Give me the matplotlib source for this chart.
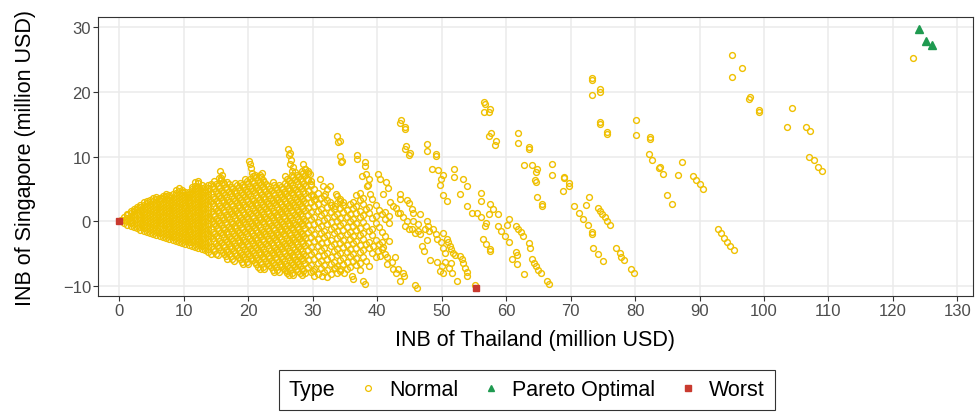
import numpy as np
import matplotlib
matplotlib.use("Agg")
import matplotlib.pyplot as plt
from matplotlib.lines import Line2D

plt.rcParams['font.family'] = ['Liberation Sans', 'DejaVu Sans']

#---------------------------------------------------------------------------------------
# data (INB in million USD)

pareto_thai = [124.0, 125.1, 126.0]
pareto_sing = [29.8, 27.9, 27.3]

worst_thai = [0.0, 55.3]
worst_sing = [0.0, -10.4]

# dense core near the origin, column by column (x, then the y values in that column)
core_x = [0.3, 0.8, 1.3, 1.8, 2.3, 2.8, 3.3, 3.8, 4.3, 4.8, 5.3, 5.8, 6.3, 6.8,
          7.3, 7.8, 8.3, 8.8, 9.3, 9.8, 10.3, 10.8, 11.3, 11.8, 12.3, 12.8, 13.3, 13.8]
core_y = [
    [-0.05, 0.15],
    [-0.25, 0.2, 0.65],
    [-0.55, -0.05, 0.45, 0.95, 1.15],
    [-0.8, -0.3, 0.2, 0.7, 1.2, 1.55],
    [-0.9, -0.4, 0.1, 0.6, 1.1, 1.6, 1.9],
    [-1.1, -0.6, -0.1, 0.4, 0.9, 1.4, 1.9, 2.15],
    [-1.35, -0.85, -0.35, 0.15, 0.65, 1.15, 1.65, 2.15, 2.55],
    [-1.55, -1.05, -0.55, -0.05, 0.45, 0.95, 1.45, 1.95, 2.45, 2.95],
    [-1.7, -1.2, -0.7, -0.2, 0.3, 0.8, 1.3, 1.8, 2.3, 2.8, 3.1],
    [-1.85, -1.35, -0.85, -0.35, 0.15, 0.65, 1.15, 1.65, 2.15, 2.65, 3.3],
    [-2.0, -1.5, -1.0, -0.5, 0.0, 0.5, 1.0, 1.5, 2.0, 2.5, 3.05, 3.65],
    [-2.15, -1.65, -1.15, -0.65, -0.15, 0.35, 0.85, 1.35, 1.85, 2.35, 2.85, 3.35, 3.75],
    [-2.3, -1.8, -1.3, -0.8, -0.3, 0.2, 0.7, 1.2, 1.7, 2.2, 2.7, 3.2, 3.55],
    [-2.5, -2.0, -1.5, -1.0, -0.5, 0.0, 0.5, 1.0, 1.5, 2.0, 2.5, 3.0, 3.5, 3.95],
    [-2.65, -2.15, -1.65, -1.15, -0.65, -0.15, 0.35, 0.85, 1.35, 1.85, 2.35, 2.85, 3.35, 3.85, 4.25],
    [-2.8, -2.3, -1.8, -1.3, -0.8, -0.3, 0.2, 0.7, 1.2, 1.7, 2.2, 2.7, 3.2, 3.7, 4.1],
    [-2.95, -2.45, -1.95, -1.45, -0.95, -0.45, 0.05, 0.55, 1.05, 1.55, 2.05, 2.55, 3.05, 3.55, 4.15],
    [-3.1, -2.6, -2.1, -1.6, -1.1, -0.6, -0.1, 0.4, 0.9, 1.4, 1.9, 2.4, 2.9, 3.4, 3.9, 4.35, 4.75],
    [-3.25, -2.75, -2.25, -1.75, -1.25, -0.75, -0.25, 0.25, 0.75, 1.25, 1.75, 2.25, 2.75, 3.25, 3.75, 4.25, 4.7, 5.15],
    [-3.4, -2.9, -2.4, -1.9, -1.4, -0.9, -0.4, 0.1, 0.6, 1.1, 1.6, 2.1, 2.6, 3.1, 3.6, 4.1, 4.5, 4.85],
    [-3.55, -3.05, -2.55, -2.05, -1.55, -1.05, -0.55, -0.05, 0.45, 0.95, 1.45, 1.95, 2.45, 2.95, 3.45, 3.95, 4.55],
    [-3.7, -3.2, -2.7, -2.2, -1.7, -1.2, -0.7, -0.2, 0.3, 0.8, 1.3, 1.8, 2.3, 2.8, 3.3, 3.8, 4.2, 4.55],
    [-3.8, -3.3, -2.8, -2.3, -1.8, -1.3, -0.8, -0.3, 0.2, 0.7, 1.2, 1.7, 2.2, 2.7, 3.2, 3.7, 4.2, 4.7, 5.0, 5.35],
    [-4.0, -3.5, -3.0, -2.5, -2.0, -1.5, -1.0, -0.5, 0.0, 0.5, 1.0, 1.5, 2.0, 2.5, 3.0, 3.5, 4.0, 4.5, 5.0, 5.5, 6.05],
    [-4.15, -3.65, -3.15, -2.65, -2.15, -1.65, -1.15, -0.65, -0.15, 0.35, 0.85, 1.35, 1.85, 2.35, 2.85, 3.35, 3.85, 4.35, 4.85, 5.35, 5.85, 6.25],
    [-4.35, -3.85, -3.35, -2.85, -2.35, -1.85, -1.35, -0.85, -0.35, 0.15, 0.65, 1.15, 1.65, 2.15, 2.65, 3.15, 3.65, 4.15, 4.65, 5.1, 5.55],
    [-4.55, -4.05, -3.55, -3.05, -2.55, -2.05, -1.55, -1.05, -0.55, -0.05, 0.45, 0.95, 1.45, 1.95, 2.45, 2.95, 3.45, 3.95, 4.45, 4.85, 5.25],
    [-4.8, -4.3, -3.8, -3.3, -2.8, -2.3, -1.8, -1.3, -0.8, -0.3, 0.2, 0.7, 1.2, 1.7, 2.2, 2.7, 3.2, 3.7, 4.2, 4.7, 5.1, 5.55],
]

# striped region between the core and x = 42, column by column
band_x = [14.3, 14.8, 15.3, 15.8, 16.3, 16.8, 17.3, 17.8, 18.3, 18.8, 19.3, 19.8, 20.3, 20.8,
          21.3, 21.8, 22.3, 22.8, 23.3, 23.8, 24.3, 24.8, 25.3, 25.8, 26.3, 26.8, 27.3, 27.8,
          28.3, 28.8, 29.3, 29.8, 30.3, 30.8, 31.3, 31.8, 32.3, 32.8, 33.3, 33.8, 34.3, 34.8,
          35.3, 35.8, 36.3, 36.8, 37.3, 37.8, 38.3, 38.8, 39.3, 39.8, 40.3, 40.8, 41.3, 41.8]
band_y = [
    [-5.02, -3.97, -2.32, -1.27, 0.38, 1.43, 3.08, 4.13, 5.78],
    [-4.67, -3.02, -1.97, -0.32, 0.73, 2.38, 3.43, 5.08, 6.13],
    [-5.3, -3.72, -2.67, -1.02, 0.03, 1.68, 2.73, 4.38, 5.43],
    [-4.42, -3.37, -1.72, -0.67, 0.98, 2.03, 3.68, 4.73, 6.38],
    [-5.12, -4.07, -2.42, -1.37, 0.28, 1.33, 2.98, 4.03, 5.68],
    [-5.82, -4.77, -3.12, -2.07, -0.42, 0.63, 2.28, 3.33, 4.98, 6.03],
    [-5.47, -3.82, -2.77, -1.12, -0.07, 1.58, 2.63, 4.28, 5.33],
    [-6.17, -4.52, -3.47, -1.82, -0.77, 0.88, 1.93, 3.58, 4.63],
    [-5.22, -4.17, -2.52, -1.47, 0.18, 1.23, 2.88, 3.93, 5.58],
    [-5.92, -4.87, -3.22, -2.17, -0.52, 0.53, 2.18, 3.23, 4.88, 5.93],
    [-6.62, -5.57, -3.92, -2.87, -1.22, -0.17, 1.48, 2.53, 4.18, 5.23],
    [-6.27, -4.62, -3.57, -1.92, -0.87, 0.78, 1.83, 3.48, 4.53, 6.18],
    [-5.32, -4.27, -2.62, -1.57, 0.08, 1.13, 2.78, 3.83, 5.48, 6.53],
    [-6.02, -4.97, -3.32, -2.27, -0.62, 0.43, 2.08, 3.13, 4.78, 5.83],
    [-6.72, -5.67, -4.02, -2.97, -1.32, -0.27, 1.38, 2.43, 4.08, 5.13, 6.78],
    [-7.42, -6.37, -4.72, -3.67, -2.02, -0.97, 0.68, 1.73, 3.38, 4.43, 6.08, 7.13],
    [-7.07, -5.42, -4.37, -2.72, -1.67, -0.02, 1.03, 2.68, 3.73, 5.38, 6.43],
    [-6.12, -5.07, -3.42, -2.37, -0.72, 0.33, 1.98, 3.03, 4.68, 5.73],
    [-6.82, -5.77, -4.12, -3.07, -1.42, -0.37, 1.28, 2.33, 3.98, 5.03],
    [-7.52, -6.47, -4.82, -3.77, -2.12, -1.07, 0.58, 1.63, 3.28, 4.33, 5.98],
    [-7.17, -5.52, -4.47, -2.82, -1.77, -0.12, 0.93, 2.58, 3.63, 5.28],
    [-7.87, -6.22, -5.17, -3.52, -2.47, -0.82, 0.23, 1.88, 2.93, 4.58, 5.63],
    [-6.92, -5.87, -4.22, -3.17, -1.52, -0.47, 1.18, 2.23, 3.88, 4.93],
    [-7.62, -6.57, -4.92, -3.87, -2.22, -1.17, 0.48, 1.53, 3.18, 4.23, 5.88, 6.93],
    [-8.32, -7.27, -5.62, -4.57, -2.92, -1.87, -0.22, 0.83, 2.48, 3.53, 5.18, 6.23],
    [-7.97, -6.32, -5.27, -3.62, -2.57, -0.92, 0.13, 1.78, 2.83, 4.48, 5.53, 7.18],
    [-7.02, -5.97, -4.32, -3.27, -1.62, -0.57, 1.08, 2.13, 3.78, 4.83, 6.48, 7.53],
    [-7.72, -6.67, -5.02, -3.97, -2.32, -1.27, 0.38, 1.43, 3.08, 4.13, 5.78, 6.83],
    [-8.42, -7.37, -5.72, -4.67, -3.02, -1.97, -0.32, 0.73, 2.38, 3.43, 5.08, 6.13, 7.78],
    [-8.07, -6.42, -5.37, -3.72, -2.67, -1.02, 0.03, 1.68, 2.73, 4.38, 5.43, 7.08, 8.13],
    [-7.12, -6.07, -4.42, -3.37, -1.72, -0.67, 0.98, 2.03, 3.68, 4.73, 6.38, 7.43],
    [-7.82, -6.77, -5.12, -4.07, -2.42, -1.37, 0.28, 1.33, 2.98, 4.03, 5.68],
    [-8.52, -7.47, -5.82, -4.77, -3.12, -2.07, -0.42, 0.63, 2.28, 3.33, 4.98],
    [-8.17, -6.52, -5.47, -3.82, -2.77, -1.12, -0.07, 1.58, 2.63, 4.28],
    [-7.22, -6.17, -4.52, -3.47, -1.82, -0.77, 0.88, 1.93, 3.58],
    [-7.92, -6.87, -5.22, -4.17, -2.52, -1.47, 0.18, 1.23, 2.88, 3.93],
    [-8.62, -7.57, -5.92, -4.87, -3.22, -2.17, -0.52, 0.53, 2.18, 3.23],
    [-8.27, -6.62, -5.57, -3.92, -2.87, -1.22, -0.17, 1.48, 2.53],
    [-7.32, -6.27, -4.62, -3.57, -1.92, -0.87, 0.78, 1.83],
    [-8.02, -6.97, -5.32, -4.27, -2.62, -1.57, 0.08, 1.13, 2.78, 3.83],
    [-7.67, -6.02, -4.97, -3.32, -2.27, -0.62, 0.43, 2.08, 3.13],
    [-6.72, -5.67, -4.02, -2.97, -1.32, -0.27, 1.38, 2.43],
    [-7.42, -6.37, -4.72, -3.67, -2.02, -0.97, 0.68, 1.73],
    [-7.07, -5.42, -4.37, -2.72, -1.67, -0.02, 1.03, 2.68],
    [-6.12, -5.07, -3.42, -2.37, -0.72, 0.33, 1.98, 3.03],
    [-6.82, -5.77, -4.12, -3.07, -1.42, -0.37, 1.28, 2.33, 3.98],
    [-7.52, -6.47, -4.82, -3.77, -2.12, -1.07, 0.58, 1.63, 3.28, 4.33],
    [-5.52, -4.47, -2.82, -1.77, -0.12, 0.93, 2.58, 3.63],
    [-6.22, -3.52, -0.82, 1.88],
    [-6.92, -4.22, -3.17, -1.52, 1.18, 2.23],
    [-4.92, -2.22, -1.17, 0.48],
    [-5.62, -2.92, -0.22, 0.83, 2.48],
    [-3.62, -0.92, 1.78],
    [-4.32, -3.27, -1.62, 1.08],
    [-5.02, -2.32, 0.38, 1.43],
    [-3.02, -0.32, 0.73],
]

# in-between columns where the stripes are packed tightest (x 14.5 to 28.5)
band2_x = [14.55, 15.05, 15.55, 16.05, 16.55, 17.05, 17.55, 18.05, 18.55, 19.05, 19.55,
           20.05, 20.55, 21.05, 21.55, 22.05, 22.55, 23.05, 23.55, 24.05, 24.55, 25.05,
           25.55, 26.05, 26.55, 27.05, 27.55, 28.05, 28.55]
band2_y = [
    [-4.32, -2.67, -1.62, 0.03, 1.08, 2.73, 3.78, 5.43],
    [-5.02, -3.37, -2.32, -0.67, 0.38, 2.03, 3.08, 4.73, 5.78],
    [-4.07, -3.02, -1.37, -0.32, 1.33, 2.38, 4.03, 5.08, 6.73],
    [-4.77, -3.72, -2.07, -1.02, 0.63, 1.68, 3.33, 4.38, 6.03],
    [-5.47, -4.42, -2.77, -1.72, -0.07, 0.98, 2.63, 3.68, 5.33],
    [-5.12, -3.47, -2.42, -0.77, 0.28, 1.93, 2.98, 4.63, 5.68],
    [-5.82, -4.17, -3.12, -1.47, -0.42, 1.23, 2.28, 3.93, 4.98],
    [-4.87, -3.82, -2.17, -1.12, 0.53, 1.58, 3.23, 4.28, 5.93],
    [-5.57, -4.52, -2.87, -1.82, -0.17, 0.88, 2.53, 3.58, 5.23],
    [-6.27, -5.22, -3.57, -2.52, -0.87, 0.18, 1.83, 2.88, 4.53, 5.58],
    [-5.92, -4.27, -3.22, -1.57, -0.52, 1.13, 2.18, 3.83, 4.88, 6.53],
    [-6.62, -4.97, -3.92, -2.27, -1.22, 0.43, 1.48, 3.13, 4.18, 5.83],
    [-5.67, -4.62, -2.97, -1.92, -0.27, 0.78, 2.43, 3.48, 5.13, 6.18],
    [-6.37, -5.32, -3.67, -2.62, -0.97, 0.08, 1.73, 2.78, 4.43, 5.48, 7.13],
    [-7.07, -6.02, -4.37, -3.32, -1.67, -0.62, 1.03, 2.08, 3.73, 4.78, 6.43],
    [-6.72, -5.07, -4.02, -2.37, -1.32, 0.33, 1.38, 3.03, 4.08, 5.73, 6.78],
    [-7.42, -5.77, -4.72, -3.07, -2.02, -0.37, 0.68, 2.33, 3.38, 5.03, 6.08],
    [-6.47, -5.42, -3.77, -2.72, -1.07, -0.02, 1.63, 2.68, 4.33, 5.38],
    [-7.17, -6.12, -4.47, -3.42, -1.77, -0.72, 0.93, 1.98, 3.63, 4.68],
    [-7.87, -6.82, -5.17, -4.12, -2.47, -1.42, 0.23, 1.28, 2.93, 3.98, 5.63],
    [-7.52, -5.87, -4.82, -3.17, -2.12, -0.47, 0.58, 2.23, 3.28, 4.93],
    [-6.57, -5.52, -3.87, -2.82, -1.17, -0.12, 1.53, 2.58, 4.23, 5.28],
    [-7.27, -6.22, -4.57, -3.52, -1.87, -0.82, 0.83, 1.88, 3.53, 4.58],
    [-7.97, -6.92, -5.27, -4.22, -2.57, -1.52, 0.13, 1.18, 2.83, 3.88, 5.53, 6.58],
    [-7.62, -5.97, -4.92, -3.27, -2.22, -0.57, 0.48, 2.13, 3.18, 4.83, 5.88],
    [-8.32, -6.67, -5.62, -3.97, -2.92, -1.27, -0.22, 1.43, 2.48, 4.13, 5.18, 6.83],
    [-7.37, -6.32, -4.67, -3.62, -1.97, -0.92, 0.73, 1.78, 3.43, 4.48, 6.13, 7.18],
    [-8.07, -7.02, -5.37, -4.32, -2.67, -1.62, 0.03, 1.08, 2.73, 3.78, 5.43, 6.48],
    [-7.72, -6.07, -5.02, -3.37, -2.32, -0.67, 0.38, 2.03, 3.08, 4.73, 5.78, 7.43],
]

# finger tips and loose points up to x = 42
tips_pts = [
    (15.7, 7.8), (16.0, 7.2), (15.8, 6.7),
    (20.1, 9.3), (20.3, 8.8), (20.5, 8.2), (20.6, 7.5), (20.8, 7.0), (22.1, 7.5),
    (26.2, 11.2), (26.5, 10.6), (26.4, 10.2), (26.6, 9.5), (26.5, 8.8), (26.9, 8.3), (26.8, 7.8),
    (28.6, 8.8), (28.8, 8.1), (29.3, 7.8), (29.6, 7.3), (29.1, 6.5), (29.7, 6.2), (29.8, 5.6),
    (31.2, 6.5), (31.6, 5.4), (32.2, 5.0), (31.9, 4.2), (30.1, 3.9), (30.4, 3.4),
    (33.8, 13.2), (34.3, 12.4), (34.0, 12.2), (34.3, 10.1), (34.6, 9.3), (34.4, 9.1),
    (36.9, 10.2), (36.9, 9.6), (38.1, 9.1), (38.1, 8.6),
    (37.6, 7.0), (38.3, 7.3), (38.8, 6.5), (38.6, 5.6), (38.5, 5.4), (38.9, 4.2), (39.2, 3.4),
    (40.2, 7.3), (40.5, 6.5), (41.4, 6.0), (41.7, 5.2), (40.9, 4.2),
    (32.7, 2.9), (33.5, 2.4), (32.7, 5.5), (33.7, 4.2), (34.3, 3.4), (34.8, 2.9),
    (37.9, -9.3), (38.1, -9.8), (36.1, -8.5), (36.3, -9.0), (31.4, -8.5), (30.1, -7.7),
    (33.5, -7.2), (34.3, -7.4), (34.9, -8.0), (26.0, -7.7),
    (39.4, -3.8), (40.2, -4.6), (40.5, -5.4), (41.5, -6.7), (40.9, -4.0), (41.5, -5.6),
    (42.5, -7.4), (43.0, -8.1),
]

# points between x = 42 and x = 66
mid_pts = [
    (56.6, 18.5), (56.7, 18.2), (57.5, 17.3), (57.4, 16.9), (56.6, 16.9), (57.6, 13.6), (57.4, 13.1),
    (58.4, 12.4), (58.3, 11.8), (61.9, 13.7), (61.9, 12.1), (63.6, 11.4), (63.6, 11.2),
    (62.8, 8.7), (64.0, 8.7), (64.8, 8.0), (64.7, 7.6), (64.5, 6.4), (64.6, 6.0), (64.8, 3.7),
    (65.6, 2.6), (65.6, 2.3),
    (53.4, 6.5), (53.9, 5.5), (52.9, 4.2), (56.1, 4.3), (56.1, 3.1),
    (54.0, 2.4), (54.7, 1.3), (55.5, 1.3), (56.2, 0.6), (56.9, -0.3), (56.7, -0.7),
    (57.5, 2.6), (58.0, 1.8), (58.7, 1.1), (57.4, 1.1), (60.5, 0.3), (60.2, -0.6),
    (58.8, -0.7), (59.3, -1.6), (59.8, -2.3), (60.4, -3.2),
    (61.6, -0.7), (61.9, -1.2), (62.3, -1.7), (62.6, -2.3), (63.5, -3.4), (63.7, -4.1),
    (56.4, -2.7), (56.9, -3.6), (57.5, -4.3), (57.5, -4.7),
    (61.6, -4.8), (61.7, -5.2), (61.0, -5.9), (61.7, -6.6), (62.8, -8.2),
    (64.0, -5.9), (64.3, -6.5), (64.7, -7.0), (65.0, -7.5), (65.4, -8.1), (66.3, -9.2), (66.6, -9.8),
    (52.9, -5.4), (53.1, -5.9), (53.4, -6.5), (53.6, -7.2), (53.9, -7.9), (54.0, -8.5), (55.2, -9.9),
    (52.4, -9.3),
    (43.7, 15.7), (43.6, 15.2), (44.4, 14.6), (44.3, 14.2), (44.5, 11.6), (44.3, 11.2), (45.1, 10.6),
    (44.9, 10.2), (47.8, 11.9), (47.8, 10.8), (49.1, 10.1), (49.2, 10.4),
    (48.6, 8.0), (49.5, 7.9), (50.2, 7.2), (49.9, 6.5), (49.8, 5.6), (52.0, 8.1), (52.0, 6.9),
    (50.2, 4.0), (50.8, 3.1), (43.6, 4.2), (43.6, 3.4),
    (42.0, 2.9), (42.5, 2.4), (43.0, 2.1), (43.2, 1.3), (43.6, 1.2), (44.1, 0.7), (44.6, 0.0),
    (44.4, -0.7), (44.9, -1.2), (45.4, -1.2), (45.9, -1.8), (46.4, -1.5), (46.7, -2.0),
    (44.7, 3.3), (44.9, 2.8), (45.4, 1.9), (45.6, 1.3), (46.7, 1.1), (47.8, 0.0), (47.9, -0.7),
    (47.4, -1.3), (48.7, -1.2), (48.1, -1.5), (45.6, 0.0), (46.4, -0.5),
    (46.9, -3.8), (47.3, -4.6), (48.2, -6.1), (47.7, -3.0), (49.1, -2.0), (49.3, -2.8), (49.9, -3.3),
    (50.3, -4.1), (50.5, -4.9), (50.2, -1.8),
    (50.8, -2.8), (51.0, -3.3), (51.3, -3.8), (51.5, -4.3), (51.8, -4.9), (52.1, -5.3),
    (49.3, -6.4), (50.0, -6.9), (49.8, -7.7), (50.2, -8.1), (50.6, -6.4), (51.5, -6.5), (51.1, -7.2),
    (51.6, -8.0),
    (45.9, -9.9), (46.2, -10.3), (43.6, -9.3), (42.3, -6.4), (43.3, -7.4), (44.1, -8.0), (44.2, -8.5),
    (42.8, -5.6),
]

# sparse points beyond x = 66
far_pts = [
    (95.1, 25.7), (96.6, 23.7), (95.0, 22.3), (97.7, 18.9), (97.9, 19.2), (99.2, 16.9), (99.3, 17.2),
    (104.3, 17.5), (103.5, 14.5), (106.5, 14.5), (107.1, 13.9), (107.0, 9.9), (107.7, 9.5),
    (108.4, 8.3), (109.0, 7.7), (123.1, 25.3),
    (89.0, 7.0), (89.5, 6.4), (90.0, 5.7), (90.5, 5.0), (87.3, 9.2), (86.7, 7.2), (84.9, 4.0),
    (85.8, 2.6), (83.7, 8.2), (83.9, 8.4), (84.4, 7.3), (82.3, 13.0), (82.3, 12.7), (82.2, 10.4),
    (82.7, 9.5), (80.1, 15.7), (80.1, 13.3),
    (92.8, -1.3), (93.3, -1.9), (93.8, -2.6), (94.3, -3.2), (94.8, -3.9), (95.3, -4.5),
    (73.3, 21.8), (73.4, 22.1), (74.6, 20.4), (74.5, 20.0), (73.3, 19.5), (74.5, 15.4), (74.5, 15.1),
    (75.6, 13.8), (75.7, 13.5),
    (67.2, 8.8), (67.2, 7.2), (69.0, 6.9), (69.0, 6.6), (69.7, 5.9), (69.7, 5.5), (68.8, 4.7),
    (72.8, 3.8), (72.4, 2.5), (70.6, 2.3), (71.3, 1.2), (71.9, 0.4), (72.7, -0.6), (73.4, -1.7),
    (73.4, -2.0),
    (74.2, 2.1), (74.6, 1.6), (74.9, 1.1), (75.3, 0.6), (75.7, 0.0), (76.1, -0.6),
    (73.5, -4.1), (74.2, -5.1), (75.1, -6.2), (77.1, -4.2), (77.6, -4.9), (77.9, -5.5), (78.3, -6.0),
    (79.4, -7.4), (79.8, -8.1),
]

x_ticks = np.arange(0, 131, 10)
y_ticks = [-10, 0, 10, 20, 30]

#---------------------------------------------------------------------------------------
# colours

yellow = '#EFC000'
green = '#1F9A50'
red = '#C93A2F'

#---------------------------------------------------------------------------------------
# collect the normal points

normal_thai = []
normal_sing = []
for cols_x, cols_y in [(core_x, core_y), (band_x, band_y), (band2_x, band2_y)]:
    for x, ys in zip(cols_x, cols_y):
        for y in ys:
            normal_thai.append(x)
            normal_sing.append(y)
for pts in [tips_pts, mid_pts, far_pts]:
    for x, y in pts:
        normal_thai.append(x)
        normal_sing.append(y)

#---------------------------------------------------------------------------------------
# plot

fig = plt.figure(figsize=(9.76, 4.14), dpi=100)
ax = fig.add_axes([0.1004, 0.2826, 0.8965, 0.6739])

ax.plot(normal_thai, normal_sing, linestyle='none', marker='o', ms=4.2,
        mfc='none', mec=yellow, mew=1.0, zorder=3)
ax.plot(pareto_thai, pareto_sing, linestyle='none', marker='^', ms=5.5,
        color=green, zorder=4)
ax.plot(worst_thai, worst_sing, linestyle='none', marker='s', ms=4.6,
        color=red, zorder=5)

ax.set_xlim(-3.26, 132.4)
ax.set_ylim(-11.6, 31.6)
ax.set_xticks(x_ticks)
ax.set_yticks(y_ticks)
ax.grid(True, color='#EBEBEB', linewidth=1.1)
ax.set_axisbelow(True)
for sp in ax.spines.values():
    sp.set_color('#333333')
    sp.set_linewidth(0.8)
ax.tick_params(labelsize=12, labelcolor='#4D4D4D', color='#333333',
               length=3.5, width=0.8, pad=1.5)

ax.set_xlabel('INB of Thailand (million USD)', fontsize=15.5, labelpad=8)
ax.set_ylabel('INB of Singapore (million USD)', fontsize=15.5, labelpad=19)

handles = [
    Line2D([], [], linestyle='none', marker='o', ms=4.2, mfc='none', mec=yellow, mew=0.9),
    Line2D([], [], linestyle='none', marker='^', ms=5.0, color=green),
    Line2D([], [], linestyle='none', marker='s', ms=4.3, color=red),
]
leg = fig.legend(handles, ['Normal', 'Pareto Optimal', 'Worst'], title='Type', ncol=3,
                 loc='center', bbox_to_anchor=(0.540, 0.0556), frameon=True,
                 fancybox=False, edgecolor='black', fontsize=15.5, title_fontsize=15.5,
                 handletextpad=0.5, columnspacing=1.0, borderpad=0.45, handlelength=1.0)
leg.get_frame().set_linewidth(0.8)

# put the legend title to the left of the keys, like ggplot does
box = leg.get_children()[0]
title_box = box.get_children()[0]
keys_box = box.get_children()[1]
box._children = [keys_box]
keys_box._children = [title_box] + keys_box.get_children()

fig.savefig('out.png', dpi=100)
